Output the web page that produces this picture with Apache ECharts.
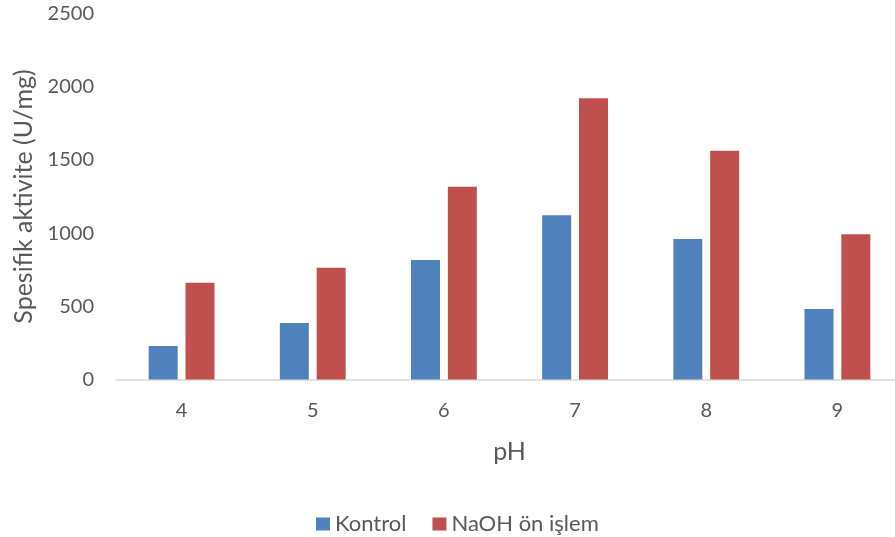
<!DOCTYPE html>
<html>
<head>
<meta charset="utf-8">
<script src="https://cdn.jsdelivr.net/npm/echarts@6/dist/echarts.min.js"></script>
<style>
  html, body { margin: 0; padding: 0; background: #fff; }
  #chart { width: 895px; height: 537px; }
</style>
</head>
<body>
<div id="chart"></div>
<script>
// pH values on the category axis
const phLevels = ['4', '5', '6', '7', '8', '9'];
// Specific activity (U/mg) per pH
const kontrol = [229, 386, 816, 1122, 960, 482];
const naohOnIslem = [661, 764, 1317, 1921, 1563, 992];
// Value axis range
const yMin = 0;
const yMax = 2500;
const yStep = 500;

const textColor = '#595959';
const fontFamily = 'Lato, "Open Sans", sans-serif';

const chart = echarts.init(document.getElementById('chart'));
chart.setOption({
  animation: false,
  backgroundColor: '#ffffff',
  textStyle: { fontFamily: fontFamily, color: textColor },
  grid: {
    left: 116, width: 787, top: 13.5, height: 366,
    containLabel: false,
    outerBoundsMode: 'none'
  },
  legend: {
    top: 513,
    left: 316,
    padding: 0,
    itemWidth: 14,
    itemHeight: 13,
    itemGap: 26,
    icon: 'rect',
    textStyle: { fontSize: 22, color: textColor, fontFamily: fontFamily },
    data: ['Kontrol', 'NaOH ön işlem']
  },
  xAxis: {
    type: 'category',
    data: phLevels,
    name: 'pH',
    nameLocation: 'middle',
    nameGap: 60,
    nameTextStyle: { fontSize: 25, color: textColor, fontFamily: fontFamily },
    axisLine: { lineStyle: { color: '#d9d9d9', width: 1.5 } },
    axisTick: { show: false },
    axisLabel: { fontSize: 20, color: textColor, margin: 21, fontFamily: fontFamily }
  },
  yAxis: {
    type: 'value',
    min: yMin,
    max: yMax,
    interval: yStep,
    name: 'Spesifik aktivite (U/mg)',
    nameLocation: 'middle',
    nameRotate: 90,
    nameGap: 77,
    nameTextStyle: { fontSize: 25, color: textColor, fontFamily: fontFamily },
    axisLine: { show: false },
    axisTick: { show: false },
    splitLine: { show: false },
    axisLabel: {
      fontSize: 20, color: textColor, margin: 22, fontFamily: fontFamily,
      formatter: function (v) { return String(v); }
    }
  },
  series: [
    {
      name: 'Kontrol',
      type: 'bar',
      data: kontrol,
      barWidth: 29,
      barGap: '27%',
      itemStyle: { color: '#4f81bd' }
    },
    {
      name: 'NaOH ön işlem',
      type: 'bar',
      data: naohOnIslem,
      barWidth: 29,
      barGap: '27%',
      itemStyle: { color: '#c0504d' }
    }
  ]
});
</script>
</body>
</html>
